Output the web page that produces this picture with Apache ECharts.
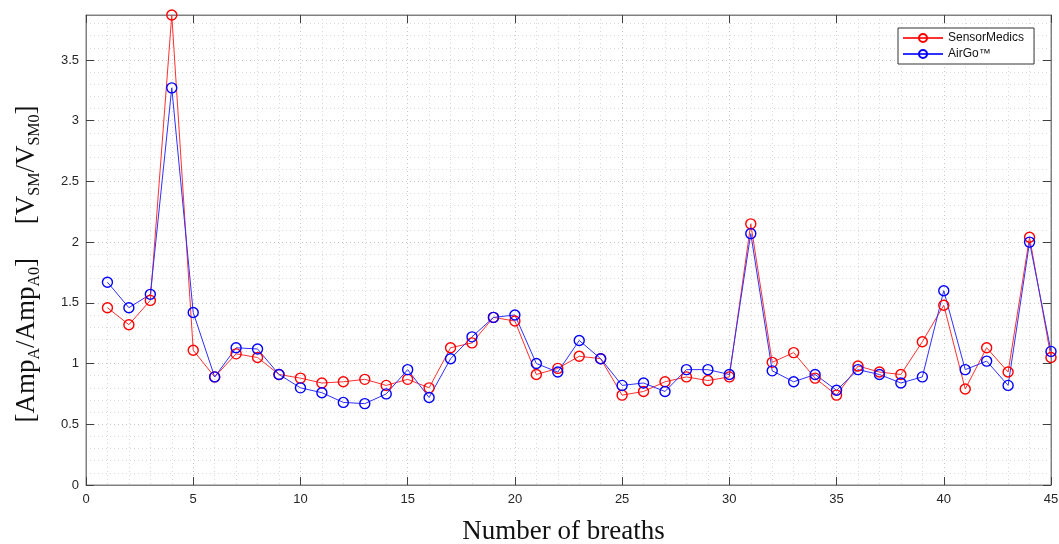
<!DOCTYPE html>
<html>
<head>
<meta charset="utf-8">
<script src="https://cdn.jsdelivr.net/npm/echarts@6/dist/echarts.min.js"></script>
<style>
  html, body { margin: 0; padding: 0; background: #fff; }
  #chart { width: 1059px; height: 544px; }
</style>
</head>
<body>
<div id="chart"></div>
<script>
// breath number 1..45
var breaths = [];
for (var i = 1; i <= 45; i++) breaths.push(i);

// SensorMedics (red)
var sensorMedics = [
  1.46, 1.32, 1.52, 3.87, 1.11, 0.89, 1.08, 1.05, 0.91, 0.88,
  0.84, 0.85, 0.87, 0.82, 0.87, 0.80, 1.13, 1.17, 1.38, 1.35,
  0.91, 0.96, 1.06, 1.04, 0.74, 0.77, 0.85, 0.89, 0.86, 0.89,
  2.15, 1.01, 1.09, 0.88, 0.74, 0.98, 0.93, 0.91, 1.18, 1.48,
  0.79, 1.13, 0.93, 2.04, 1.05
];

// AirGo (blue)
var airGo = [
  1.67, 1.46, 1.57, 3.27, 1.42, 0.89, 1.13, 1.12, 0.91, 0.80,
  0.76, 0.68, 0.67, 0.75, 0.95, 0.72, 1.04, 1.22, 1.38, 1.40,
  1.00, 0.93, 1.19, 1.04, 0.82, 0.84, 0.77, 0.95, 0.95, 0.91,
  2.07, 0.94, 0.85, 0.91, 0.78, 0.95, 0.91, 0.84, 0.89, 1.60,
  0.95, 1.02, 0.82, 2.00, 1.10
];

var seriesNames = ['SensorMedics', 'AirGo™'];
var yTicks = [0, 0.5, 1, 1.5, 2, 2.5, 3, 3.5];

function pairs(arr) {
  return arr.map(function (v, i) { return [breaths[i], v]; });
}

var chartDom = document.getElementById('chart');
var myChart = echarts.init(chartDom);

var W = 1059, H = 544;
var gLeft = 86, gRight = 8, gTop = 15, gBottom = 59;
var axisCol = '#808080';
// 每次都返回新对象，避免几个坐标轴共用同一个对象
function axisLine(onZero) {
  return { show: true, onZero: onZero, lineStyle: { color: axisCol } };
}
function gridLine() {
  return { show: true, lineStyle: { color: '#c8c8c8', type: [1, 3], width: 1 } };
}
function minorLine() {
  return { show: true, lineStyle: { color: '#dadada', type: [1, 3], width: 1 } };
}
function tick(inside, custom) {
  var t = { show: true, inside: inside, length: 8, lineStyle: { color: '#404040' } };
  if (custom) t.customValues = custom;
  return t;
}
var labelFont = { color: '#262626', fontSize: 13, fontFamily: 'Liberation Sans, Arial, sans-serif' };

var option = {
  animation: false,
  backgroundColor: '#fff',
  grid: {
    left: gLeft, right: gRight, top: gTop, bottom: gBottom,
    outerBoundsMode: 'none',
    containLabel: false,
    show: true, borderColor: axisCol, borderWidth: 1
  },
  legend: {
    left: 898, top: 28,
    orient: 'vertical',
    itemWidth: 40, itemHeight: 10, itemGap: 4,
    padding: [4, 10, 4, 4],
    backgroundColor: '#fff',
    borderColor: '#333', borderWidth: 1,
    textStyle: { color: '#111', fontSize: 12, fontFamily: 'Liberation Sans, Arial, sans-serif' },
    data: seriesNames
  },
  xAxis: [{
    type: 'value', min: 0, max: 45, interval: 5,
    name: 'Number of breaths', nameLocation: 'middle', nameGap: 33,
    nameTextStyle: { fontFamily: 'Liberation Serif, Times New Roman, serif', fontSize: 27, color: '#111', padding: [0, 10, 0, 0] },
    axisLine: axisLine(true),
    axisTick: { show: false },
    axisLabel: Object.assign({ margin: 8 }, labelFont),
    splitLine: gridLine(),
    minorTick: { show: false, splitNumber: 5 },
    minorSplitLine: minorLine()
  }, {
    type: 'value', min: 0, max: 45, interval: 5, position: 'top',
    axisLine: axisLine(false), axisTick: tick(true), axisLabel: { show: false },
    splitLine: { show: false }
  }, {
    // 底边朝里的刻度：放在上边再往下挪到底边
    type: 'value', min: 0, max: 45, interval: 5, position: 'top',
    offset: -(H - gTop - gBottom),
    axisLine: { show: false, onZero: false }, axisTick: tick(false), axisLabel: { show: false },
    splitLine: { show: false }
  }],
  yAxis: [{
    type: 'value', min: 0, max: 3.87, interval: 0.5,
    axisLine: axisLine(true),
    axisTick: { show: false },
    axisLabel: Object.assign({
      margin: 7, customValues: yTicks,
      formatter: function (v) { return String(v); }
    }, labelFont),
    splitLine: gridLine(),
    minorTick: { show: false, splitNumber: 5 },
    minorSplitLine: minorLine()
  }, {
    type: 'value', min: 0, max: 3.87, interval: 0.5, position: 'right',
    axisLine: axisLine(false), axisTick: tick(true, yTicks), axisLabel: { show: false },
    splitLine: { show: false }
  }, {
    // 左边朝里的刻度
    type: 'value', min: 0, max: 3.87, interval: 0.5, position: 'right',
    offset: -(W - gLeft - gRight),
    axisLine: { show: false, onZero: false }, axisTick: tick(false, yTicks), axisLabel: { show: false },
    splitLine: { show: false }
  }],
  graphic: [{
    type: 'text',
    x: 27, y: 264,
    rotation: Math.PI / 2,
    style: {
      text: '{n|[Amp}{s|A}{n|/Amp}{s|A0}{n|]     [V}{s|SM}{n|/V}{s|SM0}{n|]}',
      align: 'center', verticalAlign: 'middle',
      rich: {
        n: { fontFamily: 'Liberation Serif, Times New Roman, serif', fontSize: 27, fill: '#111', lineHeight: 32, verticalAlign: 'bottom', padding: [0, 0, 3, 0] },
        s: { fontFamily: 'Liberation Serif, Times New Roman, serif', fontSize: 16, fill: '#111', lineHeight: 32, verticalAlign: 'bottom' }
      }
    }
  }],
  series: [{
    name: seriesNames[0],
    type: 'line',
    data: pairs(sensorMedics),
    symbol: 'circle', symbolSize: 10,
    color: '#ff0000',
    itemStyle: { color: 'rgba(255,255,255,0)', borderColor: '#ff0000', borderWidth: 1.4 },
    lineStyle: { color: '#ff3030', width: 1 }
  }, {
    name: seriesNames[1],
    type: 'line',
    data: pairs(airGo),
    symbol: 'circle', symbolSize: 10,
    color: '#0000ff',
    itemStyle: { color: 'rgba(255,255,255,0)', borderColor: '#0000ff', borderWidth: 1.4 },
    lineStyle: { color: '#3030ff', width: 1 }
  }]
};

option && myChart.setOption(option);
</script>
</body>
</html>
